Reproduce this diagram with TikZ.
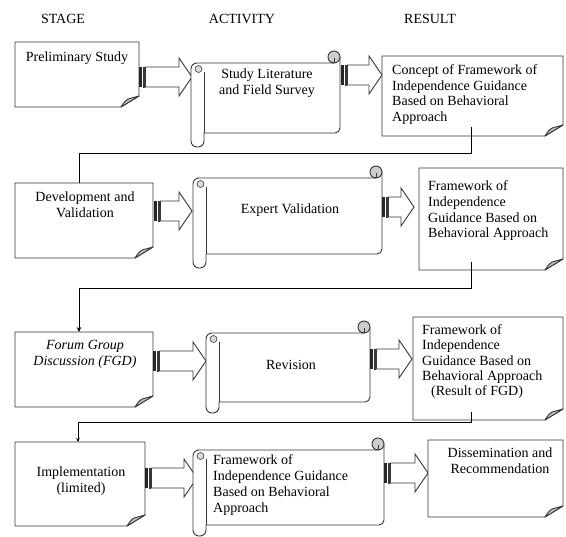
\documentclass[tikz,border=0pt]{standalone}
\usepackage{fontspec}
\setmainfont{Liberation Serif}
\usetikzlibrary{arrows.meta}
\tikzset{
  ln/.style={draw=black!78, line width=0.9pt},
  conn/.style={draw=black, line width=0.8pt},
  txt/.style={font=\fontsize{14}{16}\selectfont, inner sep=0pt, anchor=base},
  txtl/.style={txt, anchor=base west},
}
\newcommand{\notebox}[4]{%
  \draw[ln, fill=white, line join=round] (#1,#2) -- (#3,#2) -- (#3,#4-11) -- (#3-18,#4) -- (#1,#4) -- cycle;
  \draw[ln, fill=gray!50, line join=round] (#3-18,#4) .. controls (#3-14,#4-6) .. (#3-11,#4-8) -- (#3,#4-11) -- cycle;
}
\newcommand{\scrollshape}[5]{%
  \fill[white] (#1,#3) rectangle (#2,#4);
  \fill[white, rounded corners=6] (#1,#3) rectangle (#1+13,#5);
  \draw[ln, rounded corners=5] (#2,#3-6) -- (#2,#4) -- (#1+13,#4);
  \draw[ln, rounded corners=6] (#1+13,#4) -- (#1+13,#5) -- (#1,#5) -- (#1,#3) -- (#2-6,#3);
  \draw[ln] (#1+13,#3+9) -- (#1+13,#4);
  \draw[ln, fill=gray!40] (#2-6,#3-6) circle (6);
  \draw[ln, line width=0.6pt] (#2-6,#3-5) -- (#2-6,#3-1) -- (#2-9,#3-1);
  \draw[ln, fill=gray!30, line width=0.6pt] (#1+7.5,#3+6) circle (3.5);
}
\newcommand{\blockarrow}[3]{%
  \fill[black!85] (#1,#3-10) rectangle (#1+3,#3+10);
  \draw[ln, line width=0.6pt] (#1+3.8,#3-10) rectangle (#1+5.6,#3+10);
  \draw[ln, fill=white, line join=miter] (#1+6.4,#3-10) -- (#2-13,#3-10) -- (#2-13,#3-19) -- (#2,#3) -- (#2-13,#3+19) -- (#2-13,#3+10) -- (#1+6.4,#3+10) -- cycle;
}
\begin{document}
\begin{tikzpicture}[x=1pt,y=-1pt]
\useasboundingbox (0,0) rectangle (566,537);
\fill[white] (0,0) rectangle (566,537);

% headers
\node[txt] (hstage) at (63,24) {STAGE};
\node[txt] (hact) at (242,24) {ACTIVITY};
\node[txt] (hres) at (430,24) {RESULT};

% ---------- row 1
\notebox{15}{42}{139}{107}
\blockarrow{139}{192}{77}
\scrollshape{191}{340}{63}{133}{147}
\blockarrow{341}{382}{75}
\notebox{382}{56}{563}{136}
\node[txt] (b1a) at (77,62) {Preliminary Study};
\node[txt] (s1a) at (267,79) {Study Literature};
\node[txt] (s1b) at (267,95) {and Field Survey};
\node[txtl] (r1a) at (392,75) {Concept of Framework of};
\node[txtl] (r1b) at (392,90.5) {Independence Guidance};
\node[txtl] (r1c) at (392,106) {Based on Behavioral};
\node[txtl] (r1d) at (392,121.5) {Approach};

% ---------- row 2
\notebox{15}{183}{153}{258}
\blockarrow{154}{192}{211}
\scrollshape{193}{382}{178}{254}{268}
\blockarrow{382}{414}{207}
\notebox{419}{168}{563}{270}
\node[txt] (b2a) at (85,202) {Development and};
\node[txt] (b2b) at (85,218) {Validation};
\node[txt] (s2a) at (290,214) {Expert Validation};
\node[txtl] (r2a) at (428,191) {Framework of};
\node[txtl] (r2b) at (428,207) {Independence};
\node[txtl] (r2c) at (428,222.5) {Guidance Based on};
\node[txtl] (r2d) at (428,238) {Behavioral Approach};

% ---------- row 3
\notebox{15}{332}{153}{407}
\blockarrow{153}{206}{361}
\scrollshape{206}{370}{333}{402}{413}
\blockarrow{370}{412}{359}
\notebox{413}{317}{563}{420}
\node[txt, font=\fontsize{14}{16}\selectfont\itshape] (b3a) at (85,350) {Forum Group};
\node[txt, font=\fontsize{14}{16}\selectfont\itshape] (b3b) at (85,366) {Discussion (FGD)};
\node[txt] (s3a) at (291,370) {Revision};
\node[txtl] (r3a) at (422,335) {Framework of};
\node[txtl] (r3b) at (422,350) {Independence};
\node[txtl] (r3c) at (422,365.5) {Guidance Based on};
\node[txtl] (r3d) at (422,381) {Behavioral Approach};
\node[txtl] (r3e) at (431,396) {(Result of FGD)};

% ---------- row 4
\notebox{15}{442}{145}{526}
\blockarrow{145}{197}{478}
\scrollshape{193}{384}{450}{525}{536}
\blockarrow{384}{428}{473}
\notebox{428}{440}{563}{517}
\node[txt] (b4a) at (81,477) {Implementation};
\node[txt] (b4b) at (81,493) {(limited)};
\node[txtl] (s4a) at (213,465) {Framework of};
\node[txtl] (s4b) at (213,481) {Independence Guidance};
\node[txtl] (s4c) at (213,497) {Based on Behavioral};
\node[txtl] (s4d) at (213,513) {Approach};
\node[txt] (r4a) at (500,458) {Dissemination and};
\node[txt] (r4b) at (500,474) {Recommendation};

% ---------- connectors
\coordinate (c1s) at (471,127);
\coordinate (c1a) at (471,153);
\coordinate (c1b) at (79,153);
\coordinate (c1e) at (79,183);
\draw[conn] (c1s) -- (c1a) -- (c1b) -- (c1e);

\coordinate (c2s) at (471,262);
\coordinate (c2a) at (471,288);
\coordinate (c2b) at (79,288);
\coordinate (c2e) at (79,332);
\draw[conn, -{Stealth[length=5pt,width=4.5pt]}] (c2s) -- (c2a) -- (c2b) -- (c2e);

\coordinate (c3s) at (471,412);
\coordinate (c3a) at (471,422);
\coordinate (c3b) at (78,422);
\coordinate (c3e) at (78,442);
\draw[conn, -{Stealth[length=4pt,width=3.5pt]}] (c3s) -- (c3a) -- (c3b) -- (c3e);
\end{tikzpicture}
\end{document}
